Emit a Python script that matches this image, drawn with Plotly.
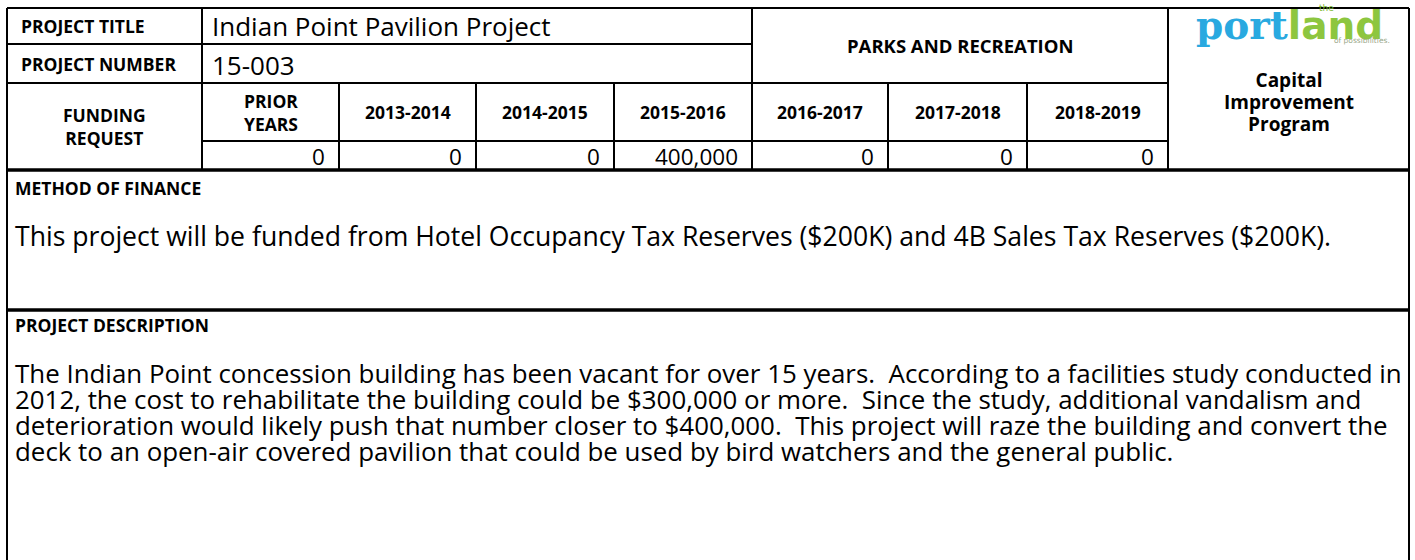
import plotly.graph_objects as go

# ---------------- data ----------------
project_title = "Indian Point Pavilion Project"
project_number = "15-003"
department = "PARKS AND RECREATION"
periods = ["PRIOR<br>YEARS", "2013-2014", "2014-2015", "2015-2016", "2016-2017", "2017-2018", "2018-2019"]
amounts = [0, 0, 0, 400000, 0, 0, 0]
finance_text = "This project will be funded from Hotel Occupancy Tax Reserves ($200K) and 4B Sales Tax Reserves ($200K)."
description_lines = [
    "The Indian Point concession building has been vacant for over 15 years.  According to a facilities study conducted in",
    "2012, the cost to rehabilitate the building could be $300,000 or more.  Since the study, additional vandalism and",
    "deterioration would likely push that number closer to $400,000.  This project will raze the building and convert the",
    "deck to an open-air covered pavilion that could be used by bird watchers and the general public.",
]
program_lines = ["Capital", "Improvement", "Program"]

# ---------------- layout geometry ----------------
W, H = 1415, 560
L, R = 7, 1409
col_x = [202, 339, 476, 614, 752, 888, 1027, 1168]  # vertical dividers
y_top, y_r1, y_r2, y_r3, y_r4, y_method, y_bottom = 8, 44, 83, 141, 170, 310, 560

FONT = "Open Sans"
BODY = 25.9
LABEL = 17.5
BLACK = "#000000"
BLUE = "#29a9e0"
GREEN = "#8dc63f"

fig = go.Figure()
shapes = []

def line(x0, y0, x1, y1, w=2):
    shapes.append(dict(type="line", xref="x", yref="y", x0=x0, y0=y0, x1=x1, y1=y1,
                       line=dict(color=BLACK, width=w), layer="above"))

# outer border (no bottom)
line(L, y_top, R, y_top)
line(L, y_top, L, y_bottom)
line(R, y_top, R, y_bottom)
# header rows
line(L, y_r1, col_x[4], y_r1)
line(L, y_r2, col_x[7], y_r2)
line(col_x[0], y_r3, col_x[7], y_r3)
line(L, y_r4, R, y_r4, 3.5)
line(L, y_method, R, y_method, 3.5)
# vertical dividers
line(col_x[0], y_top, col_x[0], y_r4)
for cx in col_x[1:4]:
    line(cx, y_r2, cx, y_r4)
line(col_x[4], y_top, col_x[4], y_r4)
for cx in col_x[5:7]:
    line(cx, y_r2, cx, y_r4)
line(col_x[7], y_top, col_x[7], y_r4)

ann = []
def text(x, y, s, size=BODY, bold=False, xanchor="left", color=BLACK, font=FONT,
         yanchor="middle", align="left"):
    ann.append(dict(x=x, y=y, xref="x", yref="y", text=("<b>%s</b>" % s) if bold else s,
                    showarrow=False, xanchor=xanchor, yanchor=yanchor, align=align,
                    borderpad=0, font=dict(family=font, size=size, color=color)))

def span(s, px, extra=""):
    return '<span style="font-size:%spx;%s">%s</span>' % (px, extra, s)

text(20, (y_top + y_r1) / 2, "PROJECT TITLE", LABEL, True)
text(20, (y_r1 + y_r2) / 2, "PROJECT NUMBER", LABEL, True)
text(col_x[0] + 9, (y_top + y_r1) / 2, project_title, 26)
text(col_x[0] + 9, (y_r1 + y_r2) / 2 + 1, project_number, 26)
text((col_x[4] + col_x[7]) / 2, (y_top + y_r2) / 2, department, 18.5, True, "center")

# funding request label
text((L + col_x[0]) / 2, (y_r2 + y_r4) / 2, "FUNDING<br>REQUEST", LABEL, True, "center", align="center")

bounds = [col_x[0]] + col_x[1:8]
for i, (p, a) in enumerate(zip(periods, amounts)):
    x0, x1 = bounds[i], bounds[i + 1]
    text((x0 + x1) / 2, (y_r2 + y_r3) / 2, p, LABEL, True, "center", align="center")
    text(x1 - 13, (y_r3 + y_r4) / 2 + 1, f"{a:,}", 22.5, False, "right")

# logo
LOGO = 39
logo = "<b>%s%s</b>" % (span("port", LOGO, "fill:%s;font-family:DejaVu Serif" % BLUE),
                        span("land", LOGO, "fill:%s;font-family:DejaVu Sans" % GREEN))
text(1195, 24.5, logo, LOGO, False, "left", GREEN, "DejaVu Sans")
text(1326, 8, "the", 9, False, "center", "#7cb82f", "DejaVu Sans")
text(1391, 40, "of possibilities.", 7.5, False, "right", "#9aa88a", "DejaVu Sans")

# Capital Improvement Program block
prog = "<br>".join(span("<b>%s</b>" % s, 19) for s in program_lines)
text((col_x[7] + R) / 2, 102, prog, 17, False, "center", yanchor="middle", align="center")

# method of finance
text(14, 188, "METHOD OF FINANCE", LABEL, True)
text(14, 236, finance_text, 26.6)
# description (one block, 26 px line pitch)
desc = "<br>".join(span(s, BODY) for s in description_lines)
text(14, 412, desc, 20, yanchor="middle")
text(14, 325, "PROJECT DESCRIPTION", LABEL, True)

fig.update_layout(
    width=W, height=H, margin=dict(l=0, r=0, t=0, b=0),
    paper_bgcolor="white", plot_bgcolor="white",
    xaxis=dict(range=[0, W], visible=False, fixedrange=True),
    yaxis=dict(range=[H, 0], visible=False, fixedrange=True),
    shapes=shapes, annotations=ann, showlegend=False,
)
fig.write_html("out.html", config={"displayModeBar": False},
               post_script="document.body.style.margin='0';document.body.style.overflow='hidden';")
